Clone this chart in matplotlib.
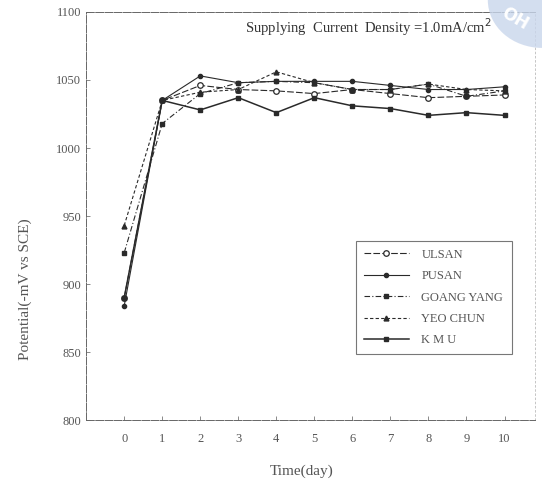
import matplotlib.pyplot as plt
from matplotlib.patches import Circle

# data (potential, -mV vs SCE)
days = [0, 1, 2, 3, 4, 5, 6, 7, 8, 9, 10]
ulsan = [890, 1035, 1046, 1043, 1042, 1040, 1043, 1040, 1037, 1038, 1039]
pusan = [884, 1035, 1053, 1048, 1049, 1049, 1049, 1046, 1043, 1043, 1045]
goang_yang = [923, 1018, 1040, 1048, 1049, 1048, 1043, 1043, 1047, 1038, 1042]
yeo_chun = [943, 1035, 1041, 1043, 1056, 1048, 1043, 1043, 1047, 1043, 1042]
kmu = [890, 1035, 1028, 1037, 1026, 1037, 1031, 1029, 1024, 1026, 1024]

y_ticks = [800, 850, 900, 950, 1000, 1050, 1100]

plt.rcParams['font.family'] = ['Liberation Serif', 'DejaVu Serif']

ink = '#2a2a2a'
txt = '#555555'

fig = plt.figure(figsize=(5.42, 4.79), dpi=100)
ax = fig.add_axes([0.159, 0.123, 0.828, 0.852])

ax.plot(days, ulsan, color=ink, lw=0.8, ls=(0, (6, 2)), marker='o', ms=4,
        mfc='white', mec=ink, mew=0.9, label='ULSAN')
ax.plot(days, pusan, color=ink, lw=0.8, ls='-', marker='o', ms=3,
        mfc=ink, mec=ink, label='PUSAN')
ax.plot(days, goang_yang, color=ink, lw=0.8, ls=(0, (5, 2, 1, 2)), marker='s', ms=3,
        mfc=ink, mec=ink, label='GOANG YANG')
ax.plot(days, yeo_chun, color=ink, lw=0.8, ls=(0, (3, 2)), marker='^', ms=3.5,
        mfc=ink, mec=ink, label='YEO CHUN')
ax.plot(days, kmu, color=ink, lw=1.1, ls='-', marker='s', ms=3.5,
        mfc=ink, mec=ink, label='K M U')

ax.set_xlim(-1, 10.8)
ax.set_ylim(800, 1100)
ax.set_xticks(days)
ax.set_yticks(y_ticks)
ax.tick_params(direction='in', length=3, width=0.6, colors='#777777',
               labelcolor=txt, labelsize=9)
ax.tick_params(axis='x', pad=9)

for side in ['left', 'bottom', 'top']:
    ax.spines[side].set_color('#666666')
    ax.spines[side].set_linewidth(0.7)
    ax.spines[side].set_linestyle((0, (8, 1.5)))
ax.spines['right'].set_color('#bbbbbb')
ax.spines['right'].set_linestyle((0, (2, 3)))
ax.spines['right'].set_linewidth(0.6)

ax.set_ylabel('Potential(-mV vs SCE)', color=txt, fontsize=11)
ax.yaxis.set_label_coords(-0.12, 0.32)
ax.set_xlabel('Time(day)', color=txt, fontsize=11)
ax.xaxis.set_label_coords(0.48, -0.11)

ax.text(0.355, 0.963, 'Supplying  Current  Density =1.0mA/cm$^2$',
        transform=ax.transAxes, ha='left', va='center', color='#333333',
        fontsize=10.5)

leg = ax.legend(loc='lower left', bbox_to_anchor=(0.588, 0.147, 0.374, 0.282),
                mode='expand', handlelength=3.6, handletextpad=1.0,
                labelspacing=0.75, fontsize=9, frameon=True, fancybox=False,
                borderpad=0.6)
leg.get_frame().set_edgecolor('#555555')
leg.get_frame().set_linewidth(0.8)
for t in leg.get_texts():
    t.set_color(txt)

# watermark logo fragment in the top right corner
fig.patches.append(Circle((1.0, 1.0), 0.1, transform=fig.transFigure,
                          facecolor='#c9d6ec', edgecolor='none', alpha=0.8))
fig.text(0.95, 0.96, 'OH', color='white', fontsize=12, fontweight='bold',
         rotation=-30, ha='center', va='center', family='DejaVu Sans')

fig.savefig('out.png', dpi=100)
